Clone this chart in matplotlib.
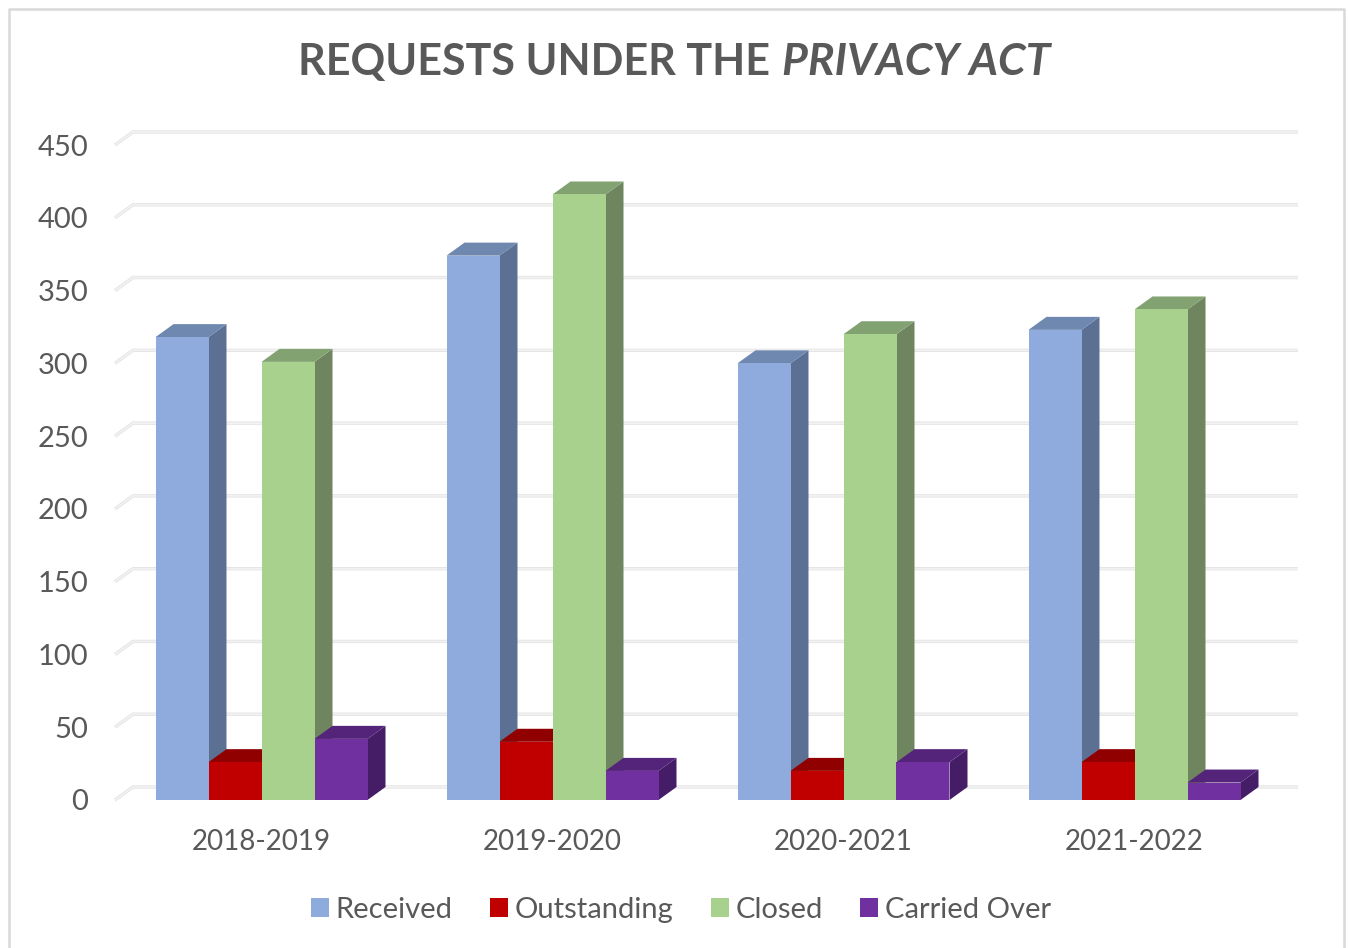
import matplotlib
matplotlib.use('Agg')
import matplotlib.pyplot as plt
from matplotlib.patches import Patch

plt.rcParams['font.family'] = ['Lato', 'DejaVu Sans']

# values
years = ['2018-2019', '2019-2020', '2020-2021', '2021-2022']
series_names = ['Received', 'Outstanding', 'Closed', 'Carried Over']
received = [318, 374, 300, 323]
outstanding = [26, 40, 20, 26]
closed = [301, 416, 320, 337]
carried_over = [42, 20, 26, 12]
y_ticks = [0, 50, 100, 150, 200, 250, 300, 350, 400, 450]

front_colors = ['#8faadc', '#c00000', '#a9d18e', '#7030a0']
top_colors = ['#6f88b0', '#900000', '#83a272', '#54237a']
side_colors = ['#5c7094', '#800000', '#6e855f', '#451c66']
text_color = '#595959'

W, H = 1348, 948
fig = plt.figure(figsize=(W / 100, H / 100), dpi=100)

# front plane of the fake 3D box, in pixels
left, right, bottom, top = 116, 1280, 800, 145
ax = fig.add_axes([left / W, 1 - bottom / H, (right - left) / W, (bottom - top) / H])
ax.set_xlim(-0.5, 3.5)
ax.set_ylim(0, 450)
ax.patch.set_visible(False)
for s in ax.spines.values():
    s.set_visible(False)

# depth of the box in data units
dx = 18 / ((right - left) / 4)
dy = 13 / ((bottom - top) / 450)
bar_w = 53 / ((right - left) / 4)

# back wall gridlines with the short slanted bit on the left
for v in y_ticks:
    xs = [-0.5 - 1 / 291, -0.5 - 1 / 291 + dx, 3.5 + dx]
    ys = [v, v + dy, v + dy]
    ax.plot(xs, ys, color='#e2e2e2', lw=2.4, clip_on=False, zorder=1, solid_capstyle='butt')
    ax.plot(xs, ys, color='#f2f2f2', lw=1.3, clip_on=False, zorder=1.1, solid_capstyle='butt')

# draw the bars left to right so later fronts cover earlier sides
all_series = [received, outstanding, closed, carried_over]
z = 2
for i in range(len(years)):
    for j, vals in enumerate(all_series):
        x0 = i + (j - 2) * bar_w
        x1 = x0 + bar_w
        v = vals[i]
        ax.fill([x1, x1 + dx, x1 + dx, x1], [0, dy, v + dy, v], color=side_colors[j],
                lw=0, clip_on=False, zorder=z)
        ax.fill([x0, x1, x1 + dx, x0 + dx], [v, v, v + dy, v + dy], color=top_colors[j],
                lw=0, clip_on=False, zorder=z)
        ax.bar(x0, v, width=bar_w, align='edge', color=front_colors[j], lw=0, zorder=z + 0.5)
        z += 1

ax.set_yticks(y_ticks)
ax.set_xticks(range(len(years)))
ax.set_xticklabels(years)
ax.tick_params(axis='y', length=0, labelsize=21, labelcolor=text_color, pad=20)
ax.tick_params(axis='x', length=0, labelsize=20, labelcolor=text_color, pad=21)

handles = [Patch(color=c, lw=0) for c in front_colors]
fig.legend(handles, series_names, ncol=4, frameon=False, fontsize=21, labelcolor=text_color,
           loc='center', bbox_to_anchor=(681 / W, 1 - 910 / H),
           handlelength=0.62, handleheight=0.62, handletextpad=0.24, columnspacing=1.27,
           borderpad=0, borderaxespad=0)

# title in two parts since only the last words are italic
title_y = 1 - 62 / H
fig.text(298 / W, title_y, 'REQUESTS UNDER THE', fontsize=31, fontweight='bold',
         color=text_color, ha='left', va='center')
fig.text(782 / W, title_y, 'PRIVACY ACT', fontsize=32, fontweight='bold', style='italic',
         color=text_color, ha='left', va='center')

# chart frame, the bottom edge is cut off
fig.add_artist(plt.Line2D([8.5 / W, 8.5 / W, 1344 / W, 1344 / W],
                          [0, 1 - 8.5 / H, 1 - 8.5 / H, 0], color='#d9d9d9', lw=1.8))

fig.savefig('out.png', dpi=100)
